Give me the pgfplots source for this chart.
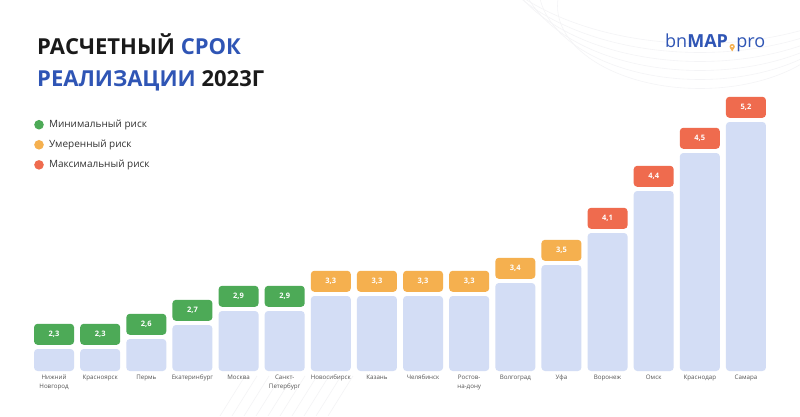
\documentclass[border=0pt]{standalone}
\usepackage{pgfplots}
\pgfplotsset{compat=1.18}
\usepackage{pgfplotstable}
\usepackage{fontspec}
\setmainfont{Open Sans}

\definecolor{cgreen}{HTML}{4DAA57}
\definecolor{corange}{HTML}{F5B04F}
\definecolor{cred}{HTML}{EF6B4E}
\definecolor{cbar}{HTML}{D3DDF5}
\definecolor{tblue}{HTML}{2F55B5}
\definecolor{tblack}{HTML}{1A1A1A}
\definecolor{labgray}{HTML}{555555}
\definecolor{ctext}{HTML}{333333}
\definecolor{faint}{HTML}{F4F4F6}

% x = category index, h = drawn bar height, v = value
\pgfplotstableread{
x h v
0 22 2.3
1 22 2.3
2 32 2.6
3 46 2.7
4 60 2.9
5 60 2.9
6 75 3.3
7 75 3.3
8 75 3.3
9 75 3.3
10 88 3.4
11 106 3.5
12 138 4.1
13 180 4.4
14 218 4.5
15 249 5.2
}\bars

\pgfplotstableread{
x h lab
0 22 2,3
1 22 2,3
2 32 2,6
3 46 2,7
4 60 2,9
5 60 2,9
}\mindata

\pgfplotstableread{
x h lab
6 75 3,3
7 75 3,3
8 75 3,3
9 75 3,3
10 88 3,4
11 106 3,5
}\moddata

\pgfplotstableread{
x h lab
12 138 4,1
13 180 4,4
14 218 4,5
15 249 5,2
}\maxdata

\pgfplotsset{
  valbox/.style={
    draw=none,
    nodes near coords,
    point meta=explicit symbolic,
    every node near coord/.style={
      fill=#1, text=white, rounded corners=3.5pt,
      minimum width=40pt, minimum height=21pt, inner sep=0pt,
      anchor=south, yshift=4pt,
      font=\bfseries\fontsize{7.5}{8}\selectfont},
    legend image code/.code={\fill[#1] (0pt,0pt) circle (4.8pt); \path (-4.8pt,0pt) -- (8pt,0pt);},
  },
}

\begin{document}
\begin{tikzpicture}[x=1pt,y=1pt]
\path[use as bounding box, fill=white] (0,0) rectangle (800,416);

% faint background ornament
\begin{scope}[draw=faint, line width=0.6pt]
  \foreach \r in {150,170,190,210,230,250}{
    \draw (700,\r+260) ellipse ({\r*0.95} and {\r*0.55});
  }
  \foreach \i in {0,...,9}{
    \draw (220+\i*12,0) -- (245+\i*12,40);
  }
\end{scope}

% title
\node[anchor=base west, inner sep=0pt, text=tblack, font=\bfseries\fontsize{22}{26}\selectfont]
  at (37,361) {РАСЧЕТНЫЙ \textcolor{tblue}{СРОК}};
\node[anchor=base west, inner sep=0pt, text=tblack, font=\bfseries\fontsize{22}{26}\selectfont]
  at (37,330) {\textcolor{tblue}{РЕАЛИЗАЦИИ} 2023Г};

% logo
\node[anchor=base west, inner sep=0pt, text=tblue, font=\fontsize{18}{22}\selectfont]
  (lg) at (665,368) {bn\textbf{MAP}};
\fill[corange] ([xshift=4pt,yshift=1.5pt]lg.base east) circle (2.6pt);
\fill[corange] ([xshift=1.6pt,yshift=0.6pt]lg.base east) -- ([xshift=4pt,yshift=-3.5pt]lg.base east) -- ([xshift=6.4pt,yshift=0.6pt]lg.base east) -- cycle;
\fill[white] ([xshift=4pt,yshift=1.5pt]lg.base east) circle (1pt);
\node[anchor=base west, inner sep=0pt, text=tblue, font=\fontsize{18}{22}\selectfont]
  at ([xshift=8pt]lg.base east) {pro};

\begin{axis}[
  at={(31pt,45pt)}, anchor=south west,
  scale only axis, width=738pt, height=300pt,
  xmin=-0.5, xmax=15.5, ymin=0, ymax=300,
  axis line style={draw=none},
  ytick=\empty,
  xtick={0,...,15},
  xticklabels={{Нижний\\Новгород},Красноярск,Пермь,Екатеринбург,Москва,{Санкт-\\Петербург},Новосибирск,Казань,Челябинск,{Ростов-\\на-дону},Волгоград,Уфа,Воронеж,Омск,Краснодар,Самара},
  major tick length=0pt,
  xticklabel style={align=center, font=\fontsize{6.2}{8.5}\selectfont, text=labgray, inner sep=4pt},
  clip=false,
  legend style={at={(0.0,0.85)}, anchor=north west, draw=none, fill=none,
    font=\fontsize{10}{12}\selectfont, text=ctext, row sep=7pt,
    cells={anchor=west}},
]
\addplot[ybar, bar width=40pt, bar shift=0pt, fill=cbar, draw=none, rounded corners=3.5pt, forget plot]
  table[x=x, y=h] {\bars};
\addplot[valbox=cgreen] table[x=x, y=h, meta=lab] {\mindata};
\addlegendentry{Минимальный риск}
\addplot[valbox=corange] table[x=x, y=h, meta=lab] {\moddata};
\addlegendentry{Умеренный риск}
\addplot[valbox=cred] table[x=x, y=h, meta=lab] {\maxdata};
\addlegendentry{Максимальный риск}
\end{axis}
\end{tikzpicture}
\end{document}
